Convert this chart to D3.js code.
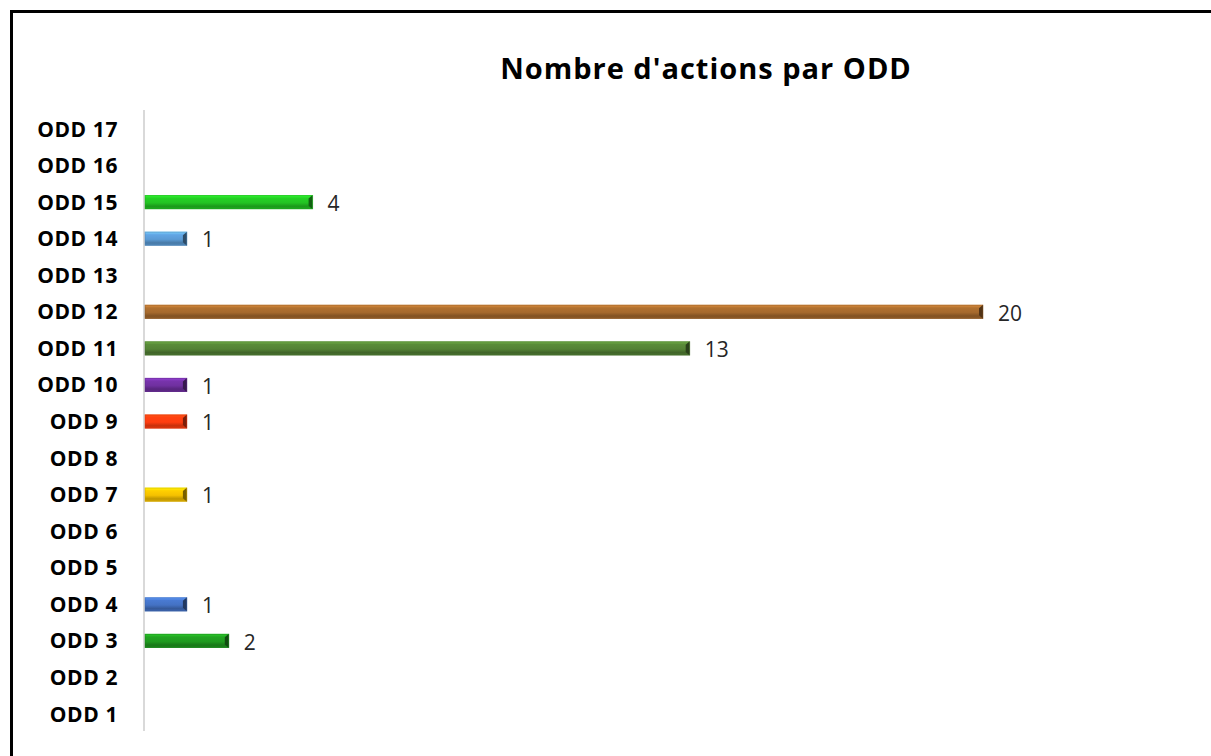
<!DOCTYPE html>
<html>
<head>
<meta charset="utf-8">
<script src="https://cdn.jsdelivr.net/npm/d3@7/dist/d3.min.js"></script>
<style>
  html, body { margin: 0; padding: 0; background: #fff; }
  svg { display: block; }
</style>
</head>
<body>
<svg id="chart" width="1211" height="756"></svg>
<script>
// Sustainable Development Goals (ODD) and the number of actions for each
const categories = ["ODD 1","ODD 2","ODD 3","ODD 4","ODD 5","ODD 6","ODD 7","ODD 8","ODD 9",
                    "ODD 10","ODD 11","ODD 12","ODD 13","ODD 14","ODD 15","ODD 16","ODD 17"];
const values     = [0, 0, 2, 1, 0, 0, 1, 0, 1, 1, 13, 20, 0, 1, 4, 0, 0];
const barColors  = ["#c5192d","#dda63a","#1f9a1f","#4472c4","#ff3a21","#26bde2","#f5c100","#a21942",
                    "#ff3d10","#7030a0","#548235","#a5692d","#3f7e44","#5b9bd5","#22c322","#00689d","#19486a"];
const title = "Nombre d'actions par ODD";

const svg = d3.select("#chart");

// frame lines (top and left)
svg.append("line").attr("x1", 10).attr("x2", 1211).attr("y1", 11.5).attr("y2", 11.5)
  .attr("stroke", "#000").attr("stroke-width", 3);
svg.append("line").attr("x1", 11.5).attr("x2", 11.5).attr("y1", 10).attr("y2", 756)
  .attr("stroke", "#000").attr("stroke-width", 3);

const y = d3.scaleBand()
  .domain(categories.slice().reverse())
  .range([110.7, 732.3])
  .paddingInner(0.615)
  .paddingOuter(0.3075);

const x = d3.scaleLinear().domain([0, 20]).range([145, 983]);

// title
svg.append("text")
  .attr("x", 706).attr("y", 79)
  .attr("text-anchor", "middle")
  .attr("font-family", "'Open Sans', sans-serif")
  .attr("font-weight", "bold")
  .attr("font-size", 29)
  .attr("letter-spacing", 1)
  .attr("fill", "#000")
  .text(title);

// gradients for the bevelled bars
const defs = svg.append("defs");
barColors.forEach((c, i) => {
  const base = d3.color(c);
  const g = defs.append("linearGradient").attr("id", "g" + i)
    .attr("x1", 0).attr("x2", 0).attr("y1", 0).attr("y2", 1);
  g.append("stop").attr("offset", "0%").attr("stop-color", base.brighter(0.9));
  g.append("stop").attr("offset", "22%").attr("stop-color", base.brighter(0.2));
  g.append("stop").attr("offset", "55%").attr("stop-color", base);
  g.append("stop").attr("offset", "80%").attr("stop-color", base.darker(0.7));
  g.append("stop").attr("offset", "100%").attr("stop-color", base.darker(0.3));
});

// category axis
const yAxis = d3.axisLeft(y).tickSize(0).tickPadding(26);
const ax = svg.append("g").attr("transform", "translate(144,0)").call(yAxis);
ax.select(".domain").attr("stroke", "#d9d9d9").attr("stroke-width", 2)
  .attr("d", "M0,110V731");
ax.selectAll("text")
  .attr("font-family", "'Open Sans', sans-serif")
  .attr("font-weight", "bold")
  .attr("font-size", 21)
  .attr("letter-spacing", 0.6)
  .attr("fill", "#000")
  .attr("dy", "0.36em")
  .attr("dx", 0);

const data = categories.map((c, i) => ({ cat: c, v: values[i], i }));
const barData = data.filter(d => d.v > 0);
const bh = y.bandwidth();

const bars = svg.append("g").selectAll("g").data(barData).join("g")
  .attr("transform", d => `translate(0,${y(d.cat)})`);

bars.append("rect")
  .attr("x", x(0)).attr("y", 0)
  .attr("width", d => x(d.v) - x(0)).attr("height", bh)
  .attr("fill", d => `url(#g${d.i})`);

// dark bevel at the end of each bar
bars.append("path")
  .attr("d", d => {
    const e = x(d.v);
    return `M${e - 4},${bh * 0.25} L${e},0 L${e},${bh} L${e - 4},${bh * 0.75} Z`;
  })
  .attr("fill", d => d3.color(barColors[d.i]).darker(2));

// thin outline
bars.append("rect")
  .attr("x", x(0)).attr("y", 0.5)
  .attr("width", d => x(d.v) - x(0)).attr("height", bh - 1)
  .attr("fill", "none")
  .attr("stroke", d => d3.color(barColors[d.i]).darker(0.5))
  .attr("stroke-opacity", 0.5)
  .attr("stroke-width", 1);

// value labels
svg.append("g").selectAll("text").data(barData).join("text")
  .attr("x", d => x(d.v) + 15)
  .attr("y", d => y(d.cat) + bh / 2)
  .attr("dy", "0.42em")
  .attr("font-family", "'Open Sans', sans-serif")
  .attr("font-size", 21)
  .attr("fill", "#262626")
  .text(d => d.v);
</script>
</body>
</html>
